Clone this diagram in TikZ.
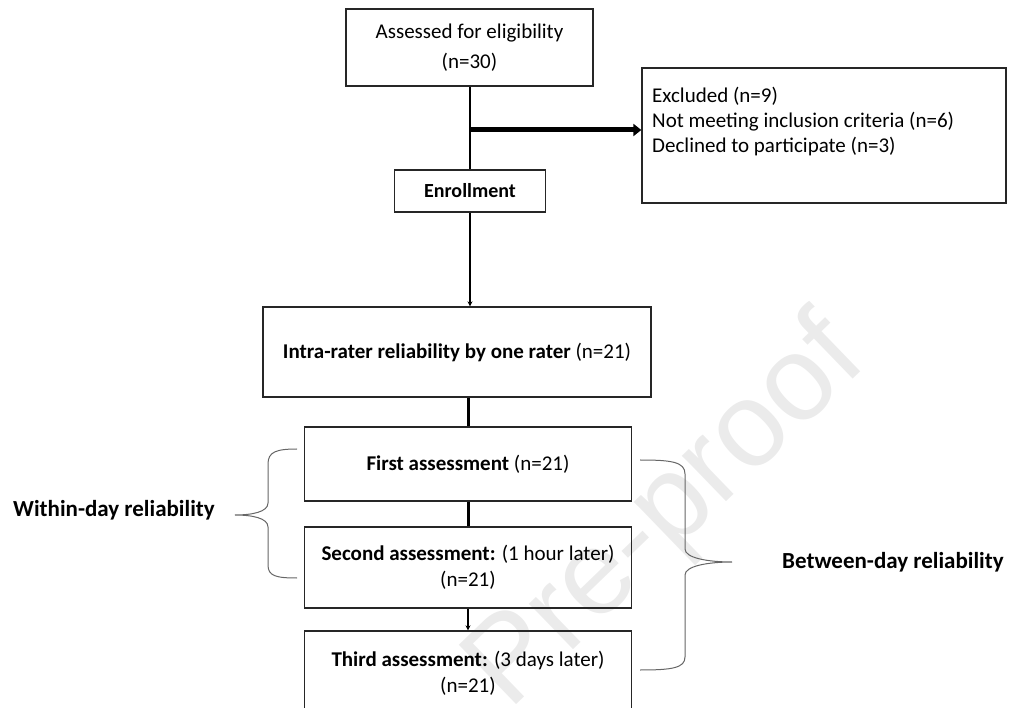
\documentclass[tikz,border=0pt]{standalone}
\usepackage{fontspec}
\setmainfont{Carlito}
\newfontfamily\wmfont{Liberation Sans}
\usetikzlibrary{arrows.meta}
\begin{document}
\begin{tikzpicture}[x=1pt,y=-1pt,
  box/.style={draw=black!85, line width=1.3pt, inner sep=0pt, align=center,
    font=\fontsize{21}{26}\selectfont},
  lbl/.style={inner sep=0pt, font=\fontsize{23}{27}\selectfont\bfseries},
  conn/.style={draw=black, line width=2pt},
  thickconn/.style={draw=black, line width=3pt},
  smallarrow/.style={draw=black, line width=1.8pt, -{Stealth[length=5pt,width=5pt]}},
  bigarrow/.style={draw=black, line width=5pt, -{Triangle[length=8pt,width=12pt]}},
  bracestyle/.style={draw=black!60, line width=1pt}
]
\useasboundingbox (0,0) rectangle (1010,708);
% watermark
\node[rotate=44, text=black!8, font=\wmfont\fontsize{120}{120}\selectfont, inner sep=0pt] (wm) at (668,515) {Pre-proof};

\node[box, minimum width=247, minimum height=77] (assess) at (469.5,47.5) {\rule{0pt}{8pt}Assessed for eligibility\\[4pt](n=30)};
\node[box, minimum width=364, minimum height=135] (excl) at (824,135.5) {};
\node[anchor=north west, align=left, inner sep=0pt, font=\fontsize{21}{25}\selectfont] (excltext) at (652,87) {Excluded (n=9)\\Not meeting inclusion criteria (n=6)\\Declined to participate (n=3)};
\node[box, minimum width=151, minimum height=42, font=\fontsize{20}{24}\selectfont\bfseries] (enroll) at (470,191) {Enrollment};
\node[box, minimum width=388, minimum height=90] (intra) at (457,352) {\textbf{Intra-rater reliability by one rater} (n=21)};
\node[box, minimum width=327, minimum height=74] (first) at (468,464) {\textbf{First assessment} (n=21)};
\node[box, minimum width=327, minimum height=81] (second) at (468,567.5) {\textbf{Second assessment:} (1 hour later)\\(n=21)};
\node[box, minimum width=327, minimum height=84] (third) at (468,673) {\textbf{Third assessment:} (3 days later)\\(n=21)};

\coordinate (split) at (assess.south |- 0,130);
\draw[conn] (assess.south) -- (assess.south |- enroll.north);
\draw[bigarrow] (split) -- (split -| excl.west);
\draw[smallarrow] (enroll.south) -- (enroll.south |- intra.north);
\draw[thickconn] (first.north |- intra.south) -- (first.north);
\draw[thickconn] (first.south) -- (second.north);
\draw[smallarrow] (second.south) -- (third.north);

% braces
\draw[bracestyle] (297,449) .. controls (276,449) and (268,452) .. (268,464) -- (268,503)
  .. controls (268,512) and (252,515) .. (235,515)
  .. controls (252,515) and (268,518) .. (268,527) -- (268,565)
  .. controls (268,576) and (276,578) .. (297,578);
\draw[bracestyle] (640,460) .. controls (672,460) and (685,462) .. (685,474) -- (685,549)
  .. controls (685,558) and (708,562) .. (732,562)
  .. controls (708,562) and (685,566) .. (685,575) -- (685,657)
  .. controls (685,668) and (672,670) .. (640,670);

\node[lbl, anchor=west] (within) at (13,510) {Within-day reliability};
\node[lbl, anchor=west] (between) at (782,562) {Between-day reliability};
\end{tikzpicture}
\end{document}
